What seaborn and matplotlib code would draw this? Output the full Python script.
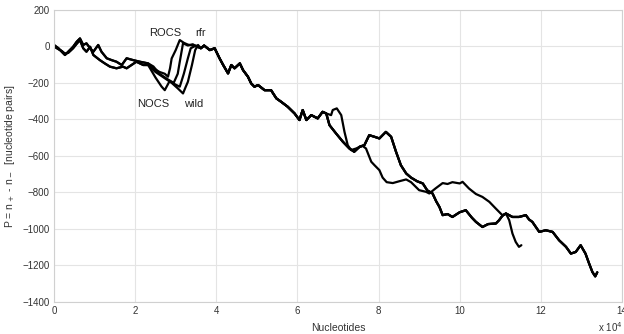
import numpy as np
import pandas as pd
import matplotlib
matplotlib.use("Agg")
import matplotlib.pyplot as plt
import seaborn as sns

# ---- data (x in units of 10^4 nucleotides) ----
headA_x = [0, 0.11, 0.19, 0.27, 0.35, 0.47, 0.56, 0.64, 0.72, 0.8, 0.89, 0.97, 1.09, 1.17, 1.3, 1.42, 1.54, 1.67, 1.79, 1.95, 2.12, 2.32]
headA_y = [8, -10, -29, -47, -29, -2, 26, 44, 8, 17, -10, -29, 8, -29, -65, -75, -84, -102, -65, -75, -84, -93]
headB_x = [0, 0.11, 0.19, 0.27, 0.35, 0.47, 0.56, 0.64, 0.72, 0.8, 0.89, 0.97, 1.13, 1.25, 1.38, 1.54, 1.7, 1.79, 1.91, 2.03, 2.2, 2.32]
headB_y = [0, -15, -25, -40, -35, -10, 15, 35, -10, -29, -2, -47, -75, -93, -111, -120, -111, -120, -102, -84, -102, -102]

rocs_div_x = [2.45, 2.6, 2.73, 2.81, 2.86, 2.9, 3.0, 3.1, 3.2, 3.3, 3.42, 3.55]
rocs_div_y = [-120, -140, -150, -166, -120, -66, -20, 35, 20, 10, 5, 0]
rfr_div_x = [2.45, 2.6, 2.8, 2.95, 3.05, 3.1, 3.18, 3.3, 3.42, 3.55]
rfr_div_y = [-110, -150, -180, -200, -150, -84, 17, 5, 12, -5]
nocs_div_x = [2.5, 2.65, 2.73, 2.85, 3.0, 3.1, 3.2, 3.3, 3.37, 3.5]
nocs_div_y = [-170, -220, -240, -190, -210, -221, -150, -65, -10, 5]
wild_div_x = [2.5, 2.7, 2.9, 3.05, 3.18, 3.25, 3.3, 3.4, 3.48, 3.55]
wild_div_y = [-140, -170, -200, -230, -258, -220, -194, -102, -20, 8]

mid_x = [3.62, 3.7, 3.84, 3.96, 4.08, 4.17, 4.29, 4.37, 4.45, 4.58, 4.66, 4.78, 4.86, 4.94, 5.03,
         5.19, 5.35, 5.48, 5.6, 5.76, 5.93, 6.05, 6.13, 6.22, 6.34, 6.5, 6.62, 6.71]
mid_y = [-10, 5, -20, -10, -65, -102, -148, -102, -120, -93, -130, -166, -203, -221, -212,
         -240, -240, -285, -304, -331, -368, -404, -349, -404, -377, -395, -359, -368]

brM_x = [6.79, 6.95, 7.12, 7.28, 7.4, 7.53, 7.65, 7.77, 7.9, 8.02, 8.18, 8.31, 8.43, 8.55, 8.68, 8.8, 8.95,
         9.09, 9.2, 9.33, 9.42, 9.5, 9.58, 9.7, 9.82, 10.0, 10.15, 10.3, 10.4, 10.56, 10.7, 10.89, 10.97, 11.05, 11.14]
brM_y = [-432, -477, -523, -560, -578, -551, -542, -487, -496, -505, -469, -496, -578, -652, -697, -720, -740,
         -752, -790, -807, -850, -881, -926, -920, -936, -910, -899, -940, -963, -991, -975, -972, -954, -930, -917]

brQ_x = [6.83, 6.87, 6.97, 7.08, 7.16, 7.24, 7.32, 7.45, 7.6, 7.69, 7.82, 7.9, 8.02, 8.1, 8.2, 8.35, 8.51, 8.68,
         8.8, 9.0, 9.17, 9.25, 9.4, 9.58, 9.7, 9.82, 10.0, 10.07, 10.23, 10.4, 10.56, 10.73, 10.89, 11.05, 11.14]
brQ_y = [-377, -349, -340, -377, -469, -542, -569, -560, -545, -560, -633, -652, -679, -720, -745, -750, -740, -730,
         -745, -789, -798, -807, -780, -750, -755, -745, -752, -743, -780, -810, -826, -853, -890, -926, -917]

tail_x = [11.3, 11.46, 11.63, 11.71, 11.79, 11.96, 12.12, 12.29, 12.45, 12.62, 12.74, 12.86, 12.98, 13.1, 13.19, 13.27, 13.34, 13.39]
tail_y = [-936, -936, -926, -950, -963, -1018, -1009, -1018, -1064, -1100, -1137, -1128, -1091, -1137, -1192, -1238, -1262, -1240]

short_x = [11.22, 11.3, 11.38, 11.46, 11.52]
short_y = [-954, -1027, -1073, -1100, -1091]

series = {
    "ROCS": (headA_x + rocs_div_x + mid_x + brQ_x + tail_x, headA_y + rocs_div_y + mid_y + brQ_y + tail_y),
    "rfr": (headA_x + rfr_div_x + mid_x + brM_x + tail_x, headA_y + rfr_div_y + mid_y + brM_y + tail_y),
    "NOCS": (headB_x + nocs_div_x + mid_x + brM_x + short_x, headB_y + nocs_div_y + mid_y + brM_y + short_y),
    "wild": (headB_x + wild_div_x + mid_x + brM_x + tail_x, headB_y + wild_div_y + mid_y + brM_y + tail_y),
}

label_names = ["ROCS", "rfr", "NOCS", "wild"]
label_x = [2.73, 3.62, 2.44, 3.44]
label_y = [74, 74, -316, -316]

frames = []
for name, (xs, ys) in series.items():
    frames.append(pd.DataFrame({"x": xs, "P": ys, "series": name}))
df = pd.concat(frames, ignore_index=True)

# ---- style ----
sns.set_theme(style="whitegrid")
plt.rcParams["font.family"] = ["Liberation Sans", "DejaVu Sans"]

fig = plt.figure(figsize=(6.24, 3.34), dpi=100)
ax = fig.add_axes([54 / 624, 1 - 301.5 / 334, (622 - 54) / 624, (301.5 - 10) / 334])

sns.lineplot(data=df, x="x", y="P", units="series", estimator=None, sort=False,
             color="black", linewidth=1.6, ax=ax)

ax.set_xlim(0, 14)
ax.set_ylim(-1400, 200)
ax.set_xticks(range(0, 15, 2))
ax.set_xticklabels([str(v) for v in range(0, 15, 2)])
ax.set_yticks(range(-1400, 201, 200))
ax.grid(True, color="#e4e4e4", linewidth=0.8)
for s in ax.spines.values():
    s.set_color("#d0d0d0")
    s.set_linewidth(0.8)
ax.tick_params(axis="both", labelsize=7, colors="#333333", direction="in", length=2,
               pad=3, color="#d0d0d0")

ax.set_xlabel("Nucleotides", fontsize=7.5, color="#333333", labelpad=5)
ax.set_ylabel(r"P = n$_+$ - n$_-$  [nucleotide pairs]", fontsize=7.5, color="#333333")
ax.yaxis.set_label_coords(-0.066, 0.5)
ax.text(0.958, -0.088, r"x 10$^4$", transform=ax.transAxes, fontsize=7, color="#333333",
        ha="left", va="center")

for n, lx, ly in zip(label_names, label_x, label_y):
    ax.text(lx, ly, n, fontsize=8, color="#222222", ha="center", va="center")

fig.savefig("out.png", dpi=100)
